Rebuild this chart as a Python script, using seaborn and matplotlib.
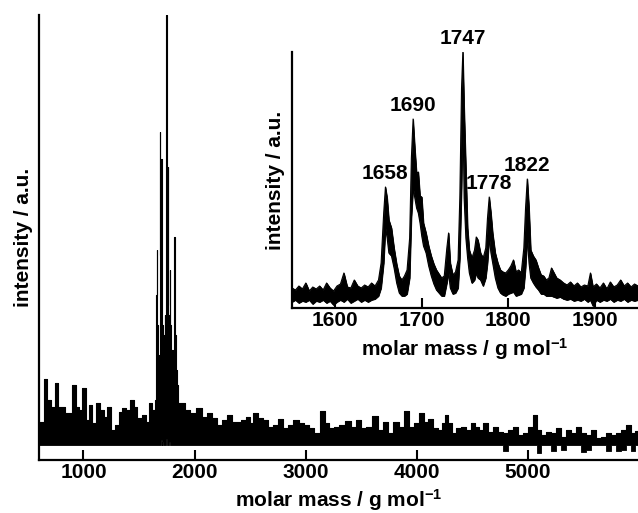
import numpy as np
import pandas as pd
import matplotlib
matplotlib.use("Agg")
import matplotlib.pyplot as plt
import seaborn as sns

# full spectrum: upper envelope of the trace (a.u.)
main_mass = [600, 630, 660, 690, 726, 756, 786, 816, 846, 876,
             915, 945, 975, 1005, 1035, 1065, 1095, 1125, 1170, 1200,
             1230, 1260, 1305, 1335, 1365, 1395, 1440, 1470, 1500, 1545,
             1575, 1605, 1635,
             1645, 1652, 1656, 1660, 1665, 1670, 1676, 1682, 1687, 1691,
             1695, 1700, 1705, 1711, 1717, 1723, 1728, 1733, 1738, 1743,
             1747, 1752, 1757, 1762, 1767, 1772, 1778, 1784, 1790, 1796,
             1802, 1808, 1815, 1822, 1828, 1835, 1845, 1862,
             1890, 1935, 1980, 2040, 2085, 2130, 2175, 2220, 2265, 2310,
             2355, 2394, 2439, 2484, 2514, 2544, 2589, 2634, 2679, 2724,
             2769, 2814, 2859, 2919, 2964, 3009, 3054, 3099, 3159, 3189,
             3234, 3279, 3324, 3384, 3429, 3474, 3519, 3564, 3624, 3669,
             3714, 3759, 3819, 3864, 3909, 3954, 3999, 4044, 4089, 4119,
             4164, 4209, 4239, 4269, 4299, 4329, 4374, 4419, 4464, 4503,
             4539, 4584, 4614, 4659, 4704, 4749, 4794, 4839, 4884, 4929,
             4974, 5019, 5064, 5094, 5139, 5184, 5229, 5274, 5319, 5364,
             5409, 5454, 5499, 5544, 5589, 5634, 5679, 5724, 5769, 5814,
             5859, 5904, 5943, 5990]
main_hi = [23, 23, 66, 45, 38, 62, 38, 38, 32, 32,
           60, 38, 35, 57, 25, 40, 22, 42, 35, 28,
           38, 15, 20, 33, 37, 35, 45, 38, 27, 30,
           23, 42, 35,
           45, 80, 150, 195, 120, 95, 75, 90, 160, 313,
           190, 286, 150, 120, 95, 85, 110, 130, 100, 170,
           430, 210, 140, 278, 130, 115, 175, 120, 95, 85,
           95, 75, 85, 208, 110, 75, 60, 42,
           42, 35, 32, 37, 28, 32, 27, 20, 25, 30,
           23, 23, 25, 28, 22, 32, 27, 25, 18, 20,
           26, 17, 20, 25, 22, 20, 17, 12, 34, 22,
           17, 18, 20, 24, 18, 25, 17, 18, 29, 15,
           23, 12, 23, 18, 34, 18, 22, 32, 23, 26,
           17, 15, 22, 30, 22, 12, 17, 18, 15, 22,
           18, 15, 22, 13, 18, 13, 12, 15, 18, 10,
           12, 18, 30, 15, 10, 13, 12, 17, 8, 15,
           12, 18, 12, 10, 15, 7, 8, 12, 10, 12,
           15, 20, 12, 14]
# lower envelope: zero except these masses (downward spikes / raised floor)
main_low_points = {1700: 5, 1711: 3, 1747: 6, 1752: 4, 1772: 3,
                   4794: -6, 5094: -8, 5229: -6, 5319: -5, 5499: -7,
                   5544: -5, 5724: -6, 5814: -6, 5859: -5, 5943: -6}

# zoomed inset: upper and lower envelope of the noisy trace
inset_mass = [1550, 1554, 1558, 1562, 1566, 1570, 1574, 1578, 1582, 1586,
              1590, 1594, 1598, 1602, 1606, 1610, 1614, 1618, 1622, 1626,
              1630, 1634, 1638, 1642, 1646,
              1650, 1653, 1656, 1658, 1660, 1662, 1665, 1668, 1671, 1674,
              1677, 1680, 1683, 1686, 1688, 1690, 1692, 1694, 1696, 1698,
              1700, 1702, 1705, 1708, 1711, 1714, 1717, 1720, 1723, 1726,
              1729, 1731, 1733, 1736, 1739, 1742, 1744, 1746, 1747.5, 1749,
              1751, 1753, 1755, 1758, 1761, 1763, 1765, 1768, 1771, 1774,
              1776, 1778, 1780, 1782, 1785, 1788, 1791, 1794, 1797, 1800,
              1803, 1806, 1809, 1812, 1815, 1818, 1820, 1822, 1824, 1826,
              1829, 1832, 1835, 1838, 1841, 1844, 1847, 1850, 1853, 1856,
              1860, 1864, 1868, 1872, 1876, 1880, 1884, 1888, 1892, 1895,
              1898, 1902, 1906, 1910, 1914, 1918, 1922, 1926, 1930, 1934,
              1938, 1942, 1946, 1950]
inset_hi = [20, 18, 22, 19, 25, 17, 21, 19, 22, 18,
            25, 20, 17, 22, 24, 35, 21, 20, 28, 22,
            20, 23, 21, 25, 22,
            28, 45, 95, 121, 110, 88, 80, 60, 44, 32,
            28, 32, 38, 70, 150, 189, 160, 135, 136, 112,
            111, 85, 75, 62, 52, 44, 38, 34, 30, 32,
            60, 75, 45, 33, 36, 48, 110, 220, 256, 200,
            140, 80, 58, 50, 58, 71, 68, 55, 50, 60,
            90, 111, 95, 75, 55, 45, 38, 36, 35, 38,
            42, 48, 36, 38, 35, 60, 100, 129, 100, 58,
            52, 48, 40, 33, 32, 28, 30, 40, 35, 30,
            28, 25, 23, 26, 22, 25, 21, 23, 22, 35,
            21, 24, 20, 25, 19, 26, 21, 23, 28, 22,
            25, 21, 24, 22]
inset_lo = [6, 8, 5, 7, 6, 8, 4, 7, 6, 8,
            5, 7, 3, 6, 8, 6, 9, 5, 7, 9,
            6, 8, 6, 8, 9,
            12, 20, 45, 80, 70, 55, 52, 40, 25, 15,
            12, 12, 14, 30, 90, 120, 110, 100, 95, 85,
            72, 62, 55, 42, 32, 24, 18, 15, 12, 12,
            25, 35, 20, 14, 15, 20, 50, 120, 200, 110,
            70, 50, 35, 25, 28, 35, 30, 28, 22, 30,
            45, 70, 55, 45, 30, 20, 15, 13, 12, 14,
            15, 16, 12, 13, 14, 20, 40, 70, 45, 30,
            25, 21, 18, 14, 14, 12, 12, 12, 11, 10,
            11, 9, 8, 9, 7, 8, 7, 9, 6, 8,
            2, 8, 6, 8, 7, 9, 6, 8, 7, 9,
            6, 8, 7, 8]

peak_labels = [1658, 1690, 1747, 1778, 1822]
peak_heights = [121, 189, 256, 111, 129]

main_ticks = [1000, 2000, 3000, 4000, 5000]
inset_ticks = [1600, 1700, 1800, 1900]

FS = 15

sns.set_theme(style="ticks")
plt.rcParams["font.family"] = ["Liberation Sans", "DejaVu Sans"]
plt.rcParams["font.weight"] = "bold"
plt.rcParams["axes.labelweight"] = "bold"
plt.rcParams["text.color"] = "black"
plt.rcParams["axes.labelcolor"] = "black"
plt.rcParams["xtick.color"] = "black"
plt.rcParams["mathtext.fontset"] = "custom"
plt.rcParams["mathtext.rm"] = "Liberation Sans:bold"
plt.rcParams["mathtext.it"] = "Liberation Sans:bold"
plt.rcParams["mathtext.bf"] = "Liberation Sans:bold"

main_df = pd.DataFrame({"mass": main_mass, "hi": main_hi})
main_df["lo"] = main_df["mass"].map(main_low_points).fillna(0)
inset_df = pd.DataFrame({"mass": inset_mass, "hi": inset_hi, "lo": inset_lo})


def style_axes(a, ticks):
    sns.despine(ax=a)
    for s in ("left", "bottom"):
        a.spines[s].set_linewidth(1.6)
        a.spines[s].set_color("black")
    a.set_xticks(ticks)
    a.set_yticks([])
    a.tick_params(axis="x", direction="in", length=7.5, width=1.5, pad=2,
                  labelsize=FS, colors="black")
    a.set_facecolor("white")


fig = plt.figure(figsize=(6.38, 5.13), dpi=100)

# main spectrum
ax = fig.add_axes([39 / 638, 53 / 513, 599 / 638, 445 / 513])
ax.fill_between(main_df["mass"], main_df["lo"], main_df["hi"], step="mid",
                color="black", linewidth=0.6)
sns.lineplot(data=main_df, x="mass", y="hi", ax=ax, color="black",
             linewidth=0.8, drawstyle="steps-mid", legend=False)
ax.set_xlim(600, 5990)
ax.set_ylim(-15, 430)
style_axes(ax, main_ticks)
ax.set_xlabel("molar mass / g mol$^{-1}$", fontsize=FS)
ax.set_ylabel("intensity / a.u.", fontsize=FS)
ax.xaxis.set_label_coords(0.5, -0.060)
ax.yaxis.set_label_coords(-0.010, 0.5)

# inset zoom on the cluster
ax_in = fig.add_axes([292 / 638, 205 / 513, 346 / 638, 256 / 513])
ax_in.fill_between(inset_df["mass"], inset_df["lo"], inset_df["hi"],
                   color="black", linewidth=0.6)
sns.lineplot(data=inset_df, x="mass", y="hi", ax=ax_in, color="black",
             linewidth=0.8, legend=False)
sns.lineplot(data=inset_df, x="mass", y="lo", ax=ax_in, color="black",
             linewidth=0.8, legend=False)
ax_in.set_xlim(1550, 1950)
ax_in.set_ylim(0, 256)
style_axes(ax_in, inset_ticks)
ax_in.set_xlabel("molar mass / g mol$^{-1}$", fontsize=FS)
ax_in.set_ylabel("intensity / a.u.", fontsize=FS)
ax_in.xaxis.set_label_coords(0.5, -0.109)
ax_in.yaxis.set_label_coords(-0.020, 0.5)

for m, h in zip(peak_labels, peak_heights):
    ax_in.annotate(str(m), xy=(m, h), xytext=(0, 3), textcoords="offset points",
                   ha="center", va="bottom", fontsize=FS, fontweight="bold",
                   annotation_clip=False)

fig.savefig("out.png", dpi=100)
